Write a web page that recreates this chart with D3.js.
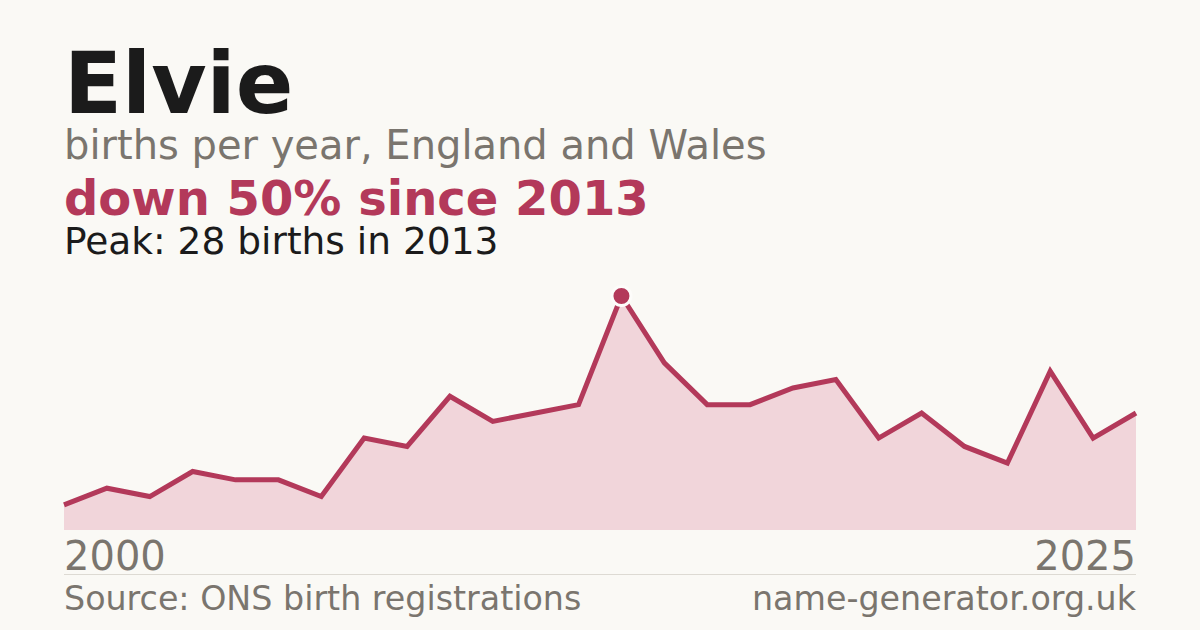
<!DOCTYPE html>
<html>
<head>
<meta charset="utf-8">
<script src="https://cdn.jsdelivr.net/npm/d3@7"></script>
<style>
  body { margin: 0; background: #faf9f5; }
  svg { display: block; font-family: "DejaVu Sans", sans-serif; }
</style>
</head>
<body>
<svg id="chart" width="1200" height="630"></svg>
<script>
var years = [2000, 2001, 2002, 2003, 2004, 2005, 2006, 2007, 2008, 2009, 2010, 2011, 2012,
             2013, 2014, 2015, 2016, 2017, 2018, 2019, 2020, 2021, 2022, 2023, 2024, 2025];
var births = [3, 5, 4, 7, 6, 6, 4, 11, 10, 16, 13, 14, 15,
              28, 20, 15, 15, 17, 18, 11, 14, 10, 8, 19, 11, 14];
var tickLabels = ["2000", "2025"];

var red = "#b3395a";

var svg = d3.select('#chart');

svg.append('rect').attr('width', 1200).attr('height', 630).attr('fill', '#faf9f5');

// heading block
svg.append('text').attr('x', 64).attr('y', 113)
    .attr('font-size', 85).attr('font-weight', 'bold').attr('fill', '#1b1b1b')
    .text('Elvie');

svg.append('text').attr('x', 64).attr('y', 159)
    .attr('font-size', 40).attr('fill', '#7a756e')
    .text('births per year, England and Wales');

svg.append('text').attr('x', 64).attr('y', 215)
    .attr('font-size', 48).attr('font-weight', 'bold').attr('fill', red)
    .text('down 50% since 2013');

svg.append('text').attr('x', 64).attr('y', 254)
    .attr('font-size', 37.5).attr('fill', '#1b1b1b')
    .text('Peak: 28 births in 2013');

// scales
var x = d3.scaleLinear().domain([2000, 2025]).range([64, 1136]);
var y = d3.scaleLinear().domain([0, 28]).range([530, 296]);

var data = years.map(function(yr, i){ return {year: yr, value: births[i]}; });

var area = d3.area()
    .x(function(d){ return x(d.year); })
    .y0(y(0))
    .y1(function(d){ return y(d.value); });

var line = d3.line()
    .x(function(d){ return x(d.year); })
    .y(function(d){ return y(d.value); });

svg.append('path').datum(data)
    .attr('d', area)
    .attr('fill', '#f1d5da');

svg.append('path').datum(data)
    .attr('d', line)
    .attr('fill', 'none')
    .attr('stroke', red)
    .attr('stroke-width', 5)
    .attr('stroke-linejoin', 'miter');

// peak marker
var peakIdx = births.indexOf(d3.max(births));
svg.append('circle')
    .attr('cx', x(years[peakIdx]))
    .attr('cy', y(births[peakIdx]))
    .attr('r', 9.5)
    .attr('fill', red)
    .attr('stroke', '#fdfcfa')
    .attr('stroke-width', 3);

// x labels
svg.append('text').attr('x', x(2000)).attr('y', 570)
    .attr('font-size', 40).attr('fill', '#7a756e')
    .text(tickLabels[0]);

svg.append('text').attr('x', x(2025)).attr('y', 570)
    .attr('font-size', 40).attr('fill', '#7a756e').attr('text-anchor', 'end')
    .text(tickLabels[1]);

// footer
svg.append('line')
    .attr('x1', 64).attr('x2', 1136).attr('y1', 574.5).attr('y2', 574.5)
    .attr('stroke', '#dddad3').attr('stroke-width', 1);

svg.append('text').attr('x', 64).attr('y', 610)
    .attr('font-size', 33.3).attr('fill', '#7a756e')
    .text('Source: ONS birth registrations');

svg.append('text').attr('x', 1136).attr('y', 610)
    .attr('font-size', 33.3).attr('fill', '#7a756e').attr('text-anchor', 'end')
    .text('name-generator.org.uk');
</script>
</body>
</html>
